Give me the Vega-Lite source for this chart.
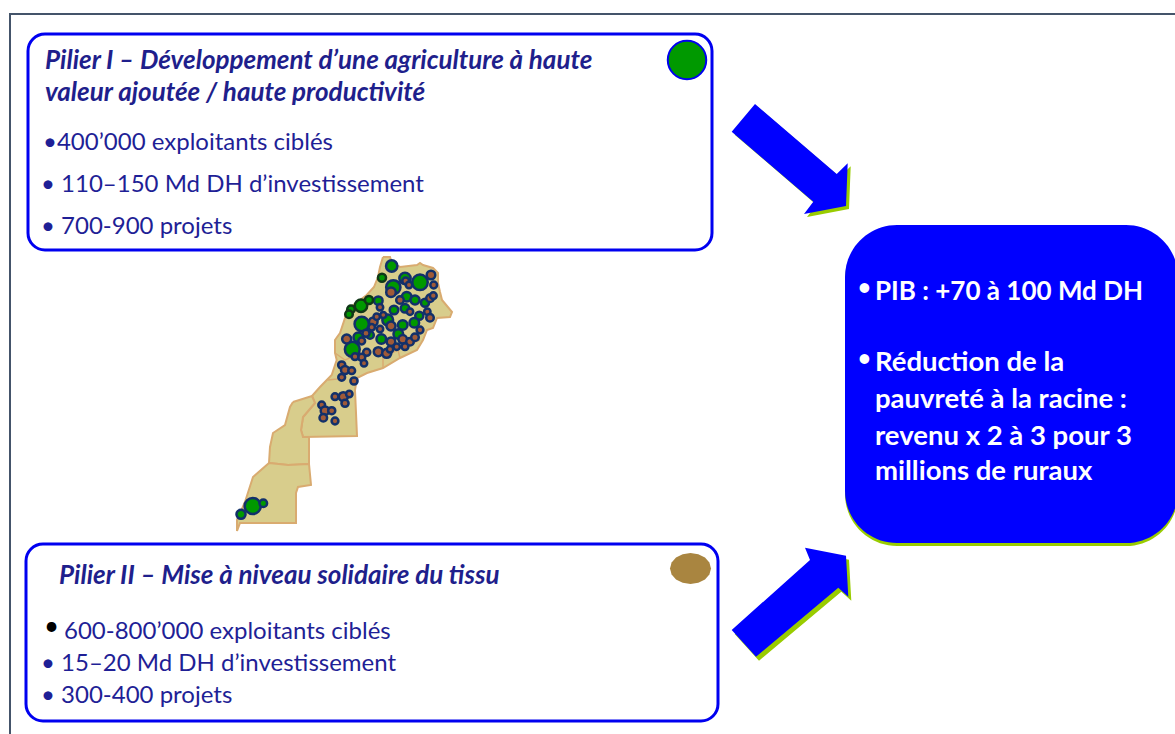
{"$schema":"https://vega.github.io/schema/vega-lite/v6.json","width":1175,"height":734,"padding":0,"autosize":{"type":"none"},"background":"white","config":{"view":{"stroke":null}},
"encoding":{"x":{"field":"x","type":"quantitative","scale":{"domain":[0,1175],"nice":false,"zero":false},"axis":null},"y":{"field":"y","type":"quantitative","scale":{"domain":[0,734],"reverse":true,"nice":false,"zero":false},"axis":null}},
"layer":[
{"data":{"values":[{"i":1,"x":10,"y":734},{"i":2,"x":10,"y":14},{"i":3,"x":1175,"y":14}]},"mark":{"type":"line","stroke":"#44546a","strokeWidth":2},"encoding":{"order":{"field":"i"}}},
{"data":{"values":[{"x":28,"x2":712,"y":34,"y2":250},{"x":26,"x2":718,"y":544,"y2":721}]},"mark":{"type":"rect","fill":"white","stroke":"#0000f0","strokeWidth":3,"cornerRadius":17},"encoding":{"x2":{"field":"x2"},"y2":{"field":"y2"}}},
{"data":{"values":[{"x":845,"x2":1178,"y":228,"y2":546}]},"mark":{"type":"rect","fill":"#99cc00","cornerRadius":52},"encoding":{"x2":{"field":"x2"},"y2":{"field":"y2"}}},
{"data":{"values":[{"x":845,"x2":1178,"y":225,"y2":543}]},"mark":{"type":"rect","fill":"#0000ff","cornerRadius":52},"encoding":{"x2":{"field":"x2"},"y2":{"field":"y2"}}},
{"data":{"values":[
{"id":"a1","i":1,"x":758,"y":107},{"id":"a1","i":2,"x":839.7,"y":177},{"id":"a1","i":3,"x":850.7,"y":166.3},{"id":"a1","i":4,"x":849,"y":209},{"id":"a1","i":5,"x":807,"y":217},{"id":"a1","i":6,"x":816.3,"y":204.7},{"id":"a1","i":7,"x":734.7,"y":134.7},
{"id":"a2","i":1,"x":734.7,"y":634},{"id":"a2","i":2,"x":813,"y":564},{"id":"a2","i":3,"x":808,"y":551.7},{"id":"a2","i":4,"x":849,"y":559.7},{"id":"a2","i":5,"x":851.3,"y":600.7},{"id":"a2","i":6,"x":841.3,"y":591.7},{"id":"a2","i":7,"x":759,"y":660.7}
]},"mark":{"type":"line","fill":"#99cc00","stroke":"#99cc00","strokeWidth":0},"encoding":{"order":{"field":"i"},"detail":{"field":"id"}}},
{"data":{"values":[
{"id":"a1","i":1,"x":755,"y":104},{"id":"a1","i":2,"x":836.7,"y":174},{"id":"a1","i":3,"x":847.7,"y":163.3},{"id":"a1","i":4,"x":846,"y":206},{"id":"a1","i":5,"x":804,"y":214},{"id":"a1","i":6,"x":813.3,"y":201.7},{"id":"a1","i":7,"x":731.7,"y":131.7},
{"id":"a2","i":1,"x":731.7,"y":630},{"id":"a2","i":2,"x":810,"y":560},{"id":"a2","i":3,"x":805,"y":547.7},{"id":"a2","i":4,"x":846,"y":555.7},{"id":"a2","i":5,"x":848.3,"y":596.7},{"id":"a2","i":6,"x":838.3,"y":587.7},{"id":"a2","i":7,"x":756,"y":656.7}
]},"mark":{"type":"line","fill":"#0000ff","stroke":"#0000ff","strokeWidth":0},"encoding":{"order":{"field":"i"},"detail":{"field":"id"}}},
{"data":{"values":[
{"id":"maroc","i":1,"x":383,"y":257},{"id":"maroc","i":2,"x":390,"y":257},{"id":"maroc","i":3,"x":392,"y":263},{"id":"maroc","i":4,"x":400,"y":267},{"id":"maroc","i":5,"x":417,"y":265},{"id":"maroc","i":6,"x":420,"y":263},{"id":"maroc","i":7,"x":423,"y":265},{"id":"maroc","i":8,"x":433,"y":268},{"id":"maroc","i":9,"x":438,"y":273},{"id":"maroc","i":10,"x":438,"y":283},{"id":"maroc","i":11,"x":440,"y":292},{"id":"maroc","i":12,"x":442,"y":300},{"id":"maroc","i":13,"x":452,"y":312},{"id":"maroc","i":14,"x":450,"y":317},{"id":"maroc","i":15,"x":437,"y":318},{"id":"maroc","i":16,"x":433,"y":328},{"id":"maroc","i":17,"x":427,"y":330},{"id":"maroc","i":18,"x":423,"y":340},{"id":"maroc","i":19,"x":417,"y":350},{"id":"maroc","i":20,"x":400,"y":358},{"id":"maroc","i":21,"x":383,"y":368},{"id":"maroc","i":22,"x":367,"y":373},{"id":"maroc","i":23,"x":357,"y":378},{"id":"maroc","i":24,"x":355,"y":390},{"id":"maroc","i":25,"x":357,"y":436},{"id":"maroc","i":26,"x":303,"y":437},{"id":"maroc","i":27,"x":301,"y":430},{"id":"maroc","i":28,"x":303,"y":417},{"id":"maroc","i":29,"x":315,"y":403},{"id":"maroc","i":30,"x":312,"y":396},{"id":"maroc","i":31,"x":320,"y":387},{"id":"maroc","i":32,"x":331.7,"y":375},{"id":"maroc","i":33,"x":336.7,"y":360},{"id":"maroc","i":34,"x":335,"y":353},{"id":"maroc","i":35,"x":335,"y":340},{"id":"maroc","i":36,"x":340,"y":333},{"id":"maroc","i":37,"x":345,"y":318},{"id":"maroc","i":38,"x":346.7,"y":310},{"id":"maroc","i":39,"x":366.7,"y":295},{"id":"maroc","i":40,"x":374,"y":287},{"id":"maroc","i":41,"x":378,"y":277},{"id":"maroc","i":42,"x":380,"y":267},{"id":"maroc","i":43,"x":383,"y":257},
{"id":"sahara1","i":1,"x":293,"y":402},{"id":"sahara1","i":2,"x":312,"y":396},{"id":"sahara1","i":3,"x":315,"y":403},{"id":"sahara1","i":4,"x":303,"y":417},{"id":"sahara1","i":5,"x":301,"y":430},{"id":"sahara1","i":6,"x":303,"y":437},{"id":"sahara1","i":7,"x":309,"y":437},{"id":"sahara1","i":8,"x":309,"y":464},{"id":"sahara1","i":9,"x":288,"y":465},{"id":"sahara1","i":10,"x":269,"y":463},{"id":"sahara1","i":11,"x":270,"y":447},{"id":"sahara1","i":12,"x":273,"y":433},{"id":"sahara1","i":13,"x":285,"y":425},{"id":"sahara1","i":14,"x":290,"y":407},{"id":"sahara1","i":15,"x":293,"y":402},
{"id":"sahara2","i":1,"x":269,"y":463},{"id":"sahara2","i":2,"x":288,"y":465},{"id":"sahara2","i":3,"x":309,"y":464},{"id":"sahara2","i":4,"x":311,"y":485},{"id":"sahara2","i":5,"x":298,"y":487},{"id":"sahara2","i":6,"x":296,"y":493},{"id":"sahara2","i":7,"x":296,"y":523},{"id":"sahara2","i":8,"x":240,"y":523},{"id":"sahara2","i":9,"x":237,"y":531},{"id":"sahara2","i":10,"x":237,"y":520},{"id":"sahara2","i":11,"x":245,"y":502},{"id":"sahara2","i":12,"x":253,"y":477},{"id":"sahara2","i":13,"x":269,"y":463}
]},"mark":{"type":"line","fill":"#d8cd8c","stroke":"#d9ab70","strokeWidth":2},"encoding":{"order":{"field":"i"},"detail":{"field":"id"}}},
{"data":{"values":[
{"id":"b1","i":1,"x":400,"y":358},{"id":"b1","i":2,"x":398,"y":350},{"id":"b1","i":3,"x":420,"y":340},
{"id":"b2","i":1,"x":383,"y":368},{"id":"b2","i":2,"x":383,"y":357},{"id":"b2","i":3,"x":398,"y":350},
{"id":"b3","i":1,"x":328,"y":380},{"id":"b3","i":2,"x":337,"y":379},{"id":"b3","i":3,"x":345,"y":373},
{"id":"b4","i":1,"x":335,"y":353},{"id":"b4","i":2,"x":345,"y":360},{"id":"b4","i":3,"x":355,"y":356}
]},"mark":{"type":"line","stroke":"#d9ab70","strokeWidth":1.5},"encoding":{"order":{"field":"i"},"detail":{"field":"id"}}},
{"data":{"values":[{"x":391.7,"y":266,"v":79},{"x":420,"y":282.3,"v":169},{"x":393.3,"y":287.3,"v":140},{"x":405,"y":278.3,"v":79},{"x":406.7,"y":296.7,"v":50},{"x":415,"y":300,"v":42},{"x":425,"y":302.7,"v":28},{"x":394,"y":310,"v":35},{"x":405,"y":308.3,"v":35},{"x":419.3,"y":315.7,"v":28},{"x":361.7,"y":324,"v":140},{"x":387.7,"y":320,"v":69},{"x":414.3,"y":322.7,"v":50},{"x":402.7,"y":325,"v":50},{"x":398.3,"y":334,"v":50},{"x":358.3,"y":337.3,"v":50},{"x":370,"y":335,"v":22},{"x":381.3,"y":339,"v":50},{"x":352.3,"y":349.3,"v":154},{"x":378.3,"y":300.7,"v":35},{"x":252.7,"y":506,"v":185},{"x":241,"y":514.3,"v":42},{"x":263.3,"y":503.3,"v":22}]},"mark":{"type":"circle","fill":"#009900","stroke":"#12306a","strokeWidth":2.5,"opacity":1},"encoding":{"size":{"field":"v","type":"quantitative","legend":null,"scale":{"domain":[0,185],"range":[30,260]}}}},
{"data":{"values":[{"x":382,"y":277.7,"v":28},{"x":361,"y":305.7,"v":100},{"x":369,"y":300,"v":28},{"x":351,"y":309.3,"v":22},{"x":349,"y":314.3,"v":22}]},"mark":{"type":"circle","fill":"#009900","stroke":"#103818","strokeWidth":2.5,"opacity":1},"encoding":{"size":{"field":"v","type":"quantitative","legend":null,"scale":{"domain":[0,185],"range":[30,260]}}}},
{"data":{"values":[{"x":391,"y":292.3,"v":50},{"x":431,"y":275,"v":35},{"x":405.7,"y":281,"v":13},{"x":409,"y":285,"v":9},{"x":433.7,"y":285,"v":13},{"x":430,"y":298.3,"v":22},{"x":433.3,"y":295.7,"v":13},{"x":400,"y":300,"v":22},{"x":380,"y":307.3,"v":9},{"x":410,"y":311.7,"v":9},{"x":427.3,"y":311.7,"v":9},{"x":430,"y":317.7,"v":22},{"x":373.3,"y":321.7,"v":35},{"x":391,"y":326,"v":42},{"x":380,"y":329,"v":9},{"x":366,"y":333.3,"v":17},{"x":346.7,"y":339,"v":42},{"x":361.7,"y":341,"v":13},{"x":391,"y":341.7,"v":35},{"x":402.7,"y":339.3,"v":35},{"x":410,"y":341.7,"v":22},{"x":415,"y":337.3,"v":22},{"x":420,"y":330,"v":13},{"x":405,"y":346.7,"v":13},{"x":378.3,"y":351.7,"v":42},{"x":386.7,"y":353.3,"v":42},{"x":366.7,"y":352.3,"v":17},{"x":361.7,"y":357.3,"v":17},{"x":355,"y":356.7,"v":13},{"x":364,"y":363.3,"v":9},{"x":341.7,"y":365,"v":17},{"x":345,"y":370,"v":28},{"x":351.7,"y":370.7,"v":13},{"x":341.7,"y":377.3,"v":13},{"x":354,"y":381,"v":17},{"x":376.7,"y":316.7,"v":9},{"x":383.3,"y":315,"v":6},{"x":396.7,"y":346.7,"v":9},{"x":390,"y":349.3,"v":9},{"x":371.7,"y":327.3,"v":9},{"x":343.3,"y":396.7,"v":42},{"x":335,"y":396.7,"v":13},{"x":349.3,"y":394,"v":9},{"x":345,"y":403.3,"v":17},{"x":321.7,"y":405,"v":13},{"x":325,"y":410.7,"v":35},{"x":331.7,"y":410.7,"v":17},{"x":323.3,"y":417.7,"v":22},{"x":335,"y":421,"v":13}]},"mark":{"type":"circle","fill":"#a05a38","stroke":"#12306a","strokeWidth":2.5,"opacity":1},"encoding":{"size":{"field":"v","type":"quantitative","legend":null,"scale":{"domain":[0,185],"range":[30,260]}}}},
{"data":{"values":[{"x":687,"y":60,"v":1480}]},"mark":{"type":"circle","fill":"#009900","stroke":"#0000f0","strokeWidth":2,"opacity":1},"encoding":{"size":{"field":"v","type":"quantitative","legend":null,"scale":null}}},
{"data":{"values":[{"i":1,"x":711,"y":568.5},{"i":2,"x":709.4,"y":574.4},{"i":3,"x":705,"y":579.5},{"i":4,"x":698.3,"y":582.8},{"i":5,"x":690.5,"y":584},{"i":6,"x":682.7,"y":582.8},{"i":7,"x":676,"y":579.5},{"i":8,"x":671.6,"y":574.4},{"i":9,"x":670,"y":568.5},{"i":10,"x":671.6,"y":562.6},{"i":11,"x":676,"y":557.5},{"i":12,"x":682.7,"y":554.2},{"i":13,"x":690.5,"y":553},{"i":14,"x":698.3,"y":554.2},{"i":15,"x":705,"y":557.5},{"i":16,"x":709.4,"y":562.6}]},"mark":{"type":"line","fill":"#a98540","stroke":"#a98540","strokeWidth":0},"encoding":{"order":{"field":"i"}}},
{"data":{"values":[{"x":45,"y":61,"t":"Pilier I – Développement  d’une agriculture à haute"},{"x":45,"y":93,"t":"valeur ajoutée / haute productivité"},{"x":59,"y":576,"t":"Pilier II – Mise à niveau solidaire du tissu"}]},"mark":{"type":"text","align":"left","baseline":"middle","font":"Lato","fontSize":26,"fontStyle":"italic","fontWeight":"bold","fill":"#1f1f8c"},"encoding":{"text":{"field":"t"}}},
{"data":{"values":[{"x":43,"y":143,"t":"•400’000 exploitants ciblés"},{"x":41,"y":185,"t":"• 110–150 Md DH d’investissement"},{"x":41,"y":227,"t":"• 700-900 projets"},{"x":64,"y":632,"t":"600-800’000 exploitants ciblés"},{"x":41,"y":664,"t":"• 15–20 Md DH d’investissement"},{"x":41,"y":696,"t":"• 300-400 projets"}]},"mark":{"type":"text","align":"left","baseline":"middle","font":"Lato","fontSize":24,"fill":"#1f1f96"},"encoding":{"text":{"field":"t"}}},
{"data":{"values":[{"x":44,"y":627,"t":"•"}]},"mark":{"type":"text","align":"left","baseline":"middle","font":"Lato","fontSize":26,"fill":"#000000"},"encoding":{"text":{"field":"t"}}},
{"data":{"values":[{"x":875,"y":292,"t":"PIB : +70 à 100  Md DH"}]},"mark":{"type":"text","align":"left","baseline":"middle","font":"Lato","fontSize":26,"fontWeight":"bold","fill":"#ffffff"},"encoding":{"text":{"field":"t"}}},
{"data":{"values":[{"x":875,"y":363,"t":"Réduction de la"},{"x":875,"y":400,"t":"pauvreté à la racine :"},{"x":875,"y":437,"t":"revenu x 2 à 3 pour 3"},{"x":875,"y":472,"t":"millions de ruraux"}]},"mark":{"type":"text","align":"left","baseline":"middle","font":"Lato","fontSize":27.5,"fontWeight":"bold","fill":"#ffffff"},"encoding":{"text":{"field":"t"}}},
{"data":{"values":[{"x":858,"y":288,"t":"•"},{"x":858,"y":359,"t":"•"}]},"mark":{"type":"text","align":"left","baseline":"middle","font":"Lato","fontSize":22,"fontWeight":"bold","fill":"#ffffff"},"encoding":{"text":{"field":"t"}}}
]}
